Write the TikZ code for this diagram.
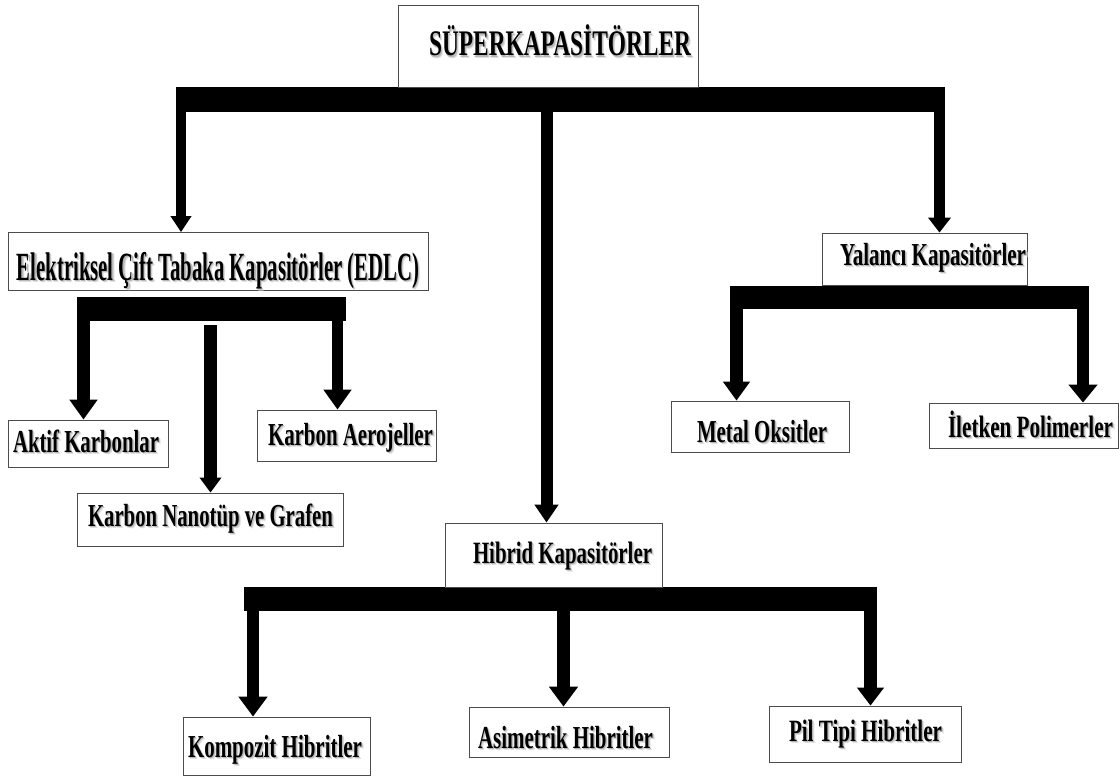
\documentclass[tikz,border=0pt]{standalone}
\usepackage{fontspec}
\setmainfont{Liberation Serif}
\usepackage{graphicx}
\usetikzlibrary{arrows.meta}
\newcommand\shd[1]{\rlap{\hspace*{2.2pt}\raisebox{-2.2pt}{\textcolor{black!12}{#1}}}\rlap{\hspace*{1.2pt}\raisebox{-1.2pt}{\textcolor{black!28}{#1}}}#1}
% width, dx, baseline offset below centre, size, text
\newcommand\lbl[5]{\makebox[0pt]{\raisebox{-#3}{\hspace*{#2}\hspace*{#2}\shd{\resizebox{#1}{\height}{\fontsize{#4}{#4}\selectfont\bfseries #5}}}}}
\tikzset{
  box/.style={draw=black!70, line width=0.8pt, fill=white, inner sep=0pt, text height=0pt, text depth=0pt},
  bar/.style={fill=black, draw=none, inner sep=0pt},
  barrow/.style n args={3}{draw=black, line width=#1, -{Triangle[width=#2,length=#3]}}
}
\begin{document}
\begin{tikzpicture}[x=1pt,y=-1pt]
\useasboundingbox (0,0) rectangle (1119,781);
% bars
\node[bar, minimum width=769pt, minimum height=25pt] (bar0) at (560.5,99.5) {};
\node[bar, minimum width=269pt, minimum height=24pt] (bar1) at (211.5,309) {};
\node[bar, minimum width=359pt, minimum height=23pt] (bar2) at (909.5,297.5) {};
\node[bar, minimum width=633pt, minimum height=24pt] (bar3) at (560.5,599) {};
% boxes
\node[box, minimum width=300pt, minimum height=82pt] (top) at (548,46) {\lbl{262pt}{12pt}{10pt}{36}{SÜPERKAPASİTÖRLER}};
\node[box, minimum width=420pt, minimum height=58pt] (edlc) at (218,261.5) {\lbl{402pt}{0pt}{18.5pt}{40}{Elektriksel Çift Tabaka Kapasitörler (EDLC)}};
\node[box, minimum width=205pt, minimum height=52pt] (yal) at (924.5,259) {\lbl{186pt}{8.5pt}{6.5pt}{32}{Yalancı Kapasitörler}};
\node[box, minimum width=160pt, minimum height=47pt] (akt) at (88,443.5) {\lbl{146pt}{-2pt}{9pt}{32}{Aktif Karbonlar}};
\node[box, minimum width=179pt, minimum height=51pt] (aero) at (346.5,435.5) {\lbl{165pt}{4pt}{10pt}{32}{Karbon Aerojeller}};
\node[box, minimum width=266pt, minimum height=53pt] (nano) at (210,519.5) {\lbl{245pt}{0.5pt}{7pt}{32}{Karbon Nanotüp ve Grafen}};
\node[box, minimum width=178pt, minimum height=51pt] (met) at (760,426.5) {\lbl{130pt}{2pt}{15.5pt}{32}{Metal Oksitler}};
\node[box, minimum width=189pt, minimum height=45pt] (ilet) at (1023.5,425.5) {\lbl{165pt}{7pt}{11.5pt}{31}{İletken Polimerler}};
\node[box, minimum width=217pt, minimum height=64pt] (hib) at (553.5,555) {\lbl{179pt}{9pt}{8.5pt}{31}{Hibrid Kapasitörler}};
\node[box, minimum width=187pt, minimum height=58pt] (komp) at (276.5,746) {\lbl{174pt}{-1.5pt}{11.5pt}{32}{Kompozit Hibritler}};
\node[box, minimum width=200pt, minimum height=50pt] (asim) at (569,732) {\lbl{175pt}{-3.5pt}{16.5pt}{32}{Asimetrik Hibritler}};
\node[box, minimum width=192pt, minimum height=56pt] (pil) at (865,734) {\lbl{153pt}{0.5pt}{7.5pt}{31}{Pil Tipi Hibritler}};
% arrow starts
\coordinate (s1) at (181,100);
\coordinate (s2) at (546.5,105);
\coordinate (s3) at (939.5,100);
\coordinate (s4) at (83.5,309);
\coordinate (s5) at (210.5,325);
\coordinate (s6) at (337.5,309);
\coordinate (s7) at (736.5,288);
\coordinate (s8) at (1083,288);
\coordinate (s9) at (253,599);
\coordinate (s10) at (563.5,599);
\coordinate (s11) at (870.5,599);
% arrows
\draw[barrow={10pt}{20pt}{16pt}] (s1) -- (s1 |- edlc.north);
\draw[barrow={12pt}{23pt}{18pt}] (s2) -- (s2 |- hib.north);
\draw[barrow={11pt}{22pt}{15pt}] (s3) -- (s3 |- yal.north);
\draw[barrow={13pt}{27pt}{20pt}] (s4) -- (s4 |- akt.north);
\draw[barrow={13pt}{21pt}{15pt}] (s5) -- (s5 |- nano.north);
\draw[barrow={11pt}{27pt}{20pt}] (s6) -- (s6 |- aero.north);
\draw[barrow={13pt}{26pt}{19pt}] (s7) -- (s7 |- met.north);
\draw[barrow={12pt}{28pt}{18pt}] (s8) -- (s8 |- ilet.north);
\draw[barrow={12pt}{28pt}{20pt}] (s9) -- (s9 |- komp.north);
\draw[barrow={13pt}{28pt}{20pt}] (s10) -- (s10 |- asim.north);
\draw[barrow={13pt}{26pt}{18pt}] (s11) -- (s11 |- pil.north);
\end{tikzpicture}
\end{document}
